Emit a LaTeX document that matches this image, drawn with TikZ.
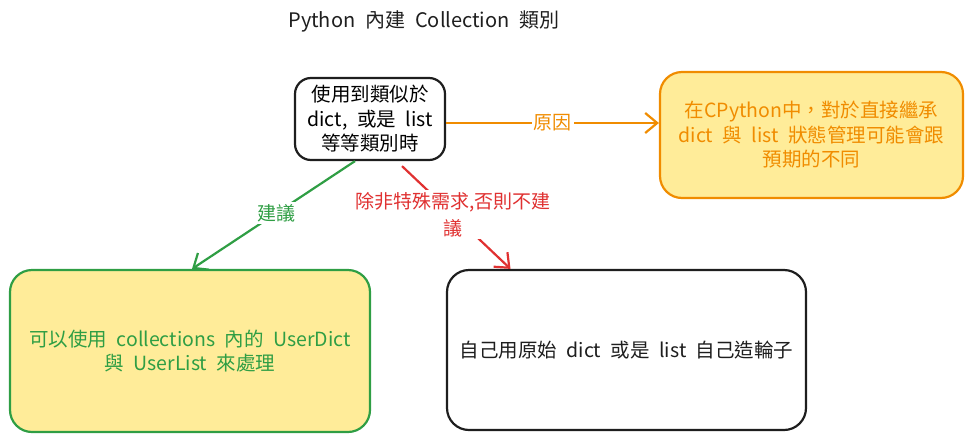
\documentclass[tikz,border=0pt]{standalone}
\usepackage{fontspec}
\setmainfont{Noto Sans CJK TC}[WordSpace=2.2]
\usetikzlibrary{arrows.meta}
\definecolor{exorange}{HTML}{F08C00}
\definecolor{exgreen}{HTML}{2F9E44}
\definecolor{exred}{HTML}{E03131}
\definecolor{exyellow}{HTML}{FFEC99}
\definecolor{exblack}{HTML}{1E1E1E}
\tikzset{
  box/.style={draw, line width=2.2pt, rounded corners=22pt, inner sep=0pt, align=center, font=\fontsize{19.5}{24.5}\selectfont},
  lbl/.style={fill=white, inner sep=2pt, align=center, font=\fontsize{19}{27}\selectfont},
  conn/.style={line width=2.2pt, -{Straight Barb[length=12pt,width=20pt,line width=2.2pt]}},
}
\begin{document}
\begin{tikzpicture}[x=1pt,y=-1pt]
\useasboundingbox (0,0) rectangle (973,442);
\node[font=\fontsize{20}{22}\selectfont, text=exblack] (title) at (424,21) {Python 內建 Collection 類別};
\node[box, draw=exblack, fill=white, rounded corners=16pt, minimum width=150pt, minimum height=82pt] (a) at (370,119)
  {使用到類似於\\dict, 或是 list\\等等類別時};
\node[box, draw=exorange, fill=exyellow, text=exorange, minimum width=303pt, minimum height=126pt] (b) at (811.5,135)
  {在CPython中，對於直接繼承\\dict 與 list 狀態管理可能會跟\\預期的不同};
\node[box, draw=exgreen, fill=exyellow, text=exgreen, minimum width=360pt, minimum height=162pt] (c) at (190,351)
  {可以使用 collections 內的 UserDict\\與 UserList 來處理};
\node[box, draw=exblack, fill=white, text=exblack, minimum width=359pt, minimum height=160pt] (d) at (626.5,350)
  {自己用原始 dict 或是 list 自己造輪子};
\draw[conn, exorange] ([yshift=-4pt]a.east) -- node[lbl, text=exorange] {原因} ([yshift=12pt]b.west);
\draw[conn, exgreen] ([xshift=-15pt]a.south) -- node[lbl, text=exgreen, pos=0.48] {建議} ([xshift=2pt]c.north);
\draw[conn, exred] ([xshift=32pt,yshift=-5pt]a.south) -- node[lbl, text=exred, pos=0.47] {除非特殊需求,否則不建\\議} ([xshift=-116pt]d.north);
\end{tikzpicture}
\end{document}
